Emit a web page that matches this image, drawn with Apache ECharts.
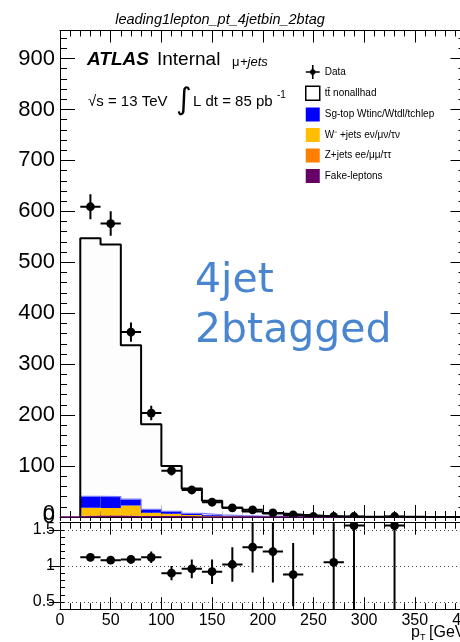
<!DOCTYPE html>
<html>
<head>
<meta charset="utf-8">
<script src="https://cdn.jsdelivr.net/npm/echarts@6/dist/echarts.min.js"></script>
<style>
html, body { margin: 0; padding: 0; background: #fff; }
#chart { width: 460px; height: 642px; }
</style>
</head>
<body>
<div id="chart"></div>
<script>
// bins of 20 GeV, lepton pT
var binEdges = [20, 40, 60, 80, 100, 120, 140, 160, 180, 200, 220, 240, 260, 280, 300, 320, 340, 360, 380, 400]

// MC stack, bottom to top
var fakes = [0.8, 0.8, 0.6, 0.4, 0.3, 0.2, 0.1, 0.1, 0.05, 0.05, 0.03, 0.03, 0.02, 0.02, 0.01, 0.01, 0.01, 0.01, 0.01]
var zJets = [2, 2, 2, 1, 0.8, 0.5, 0.3, 0.2, 0.1, 0.1, 0.05, 0.05, 0.03, 0.03, 0.02, 0.02, 0.01, 0.01, 0.01]
var wJets = [15.5, 15, 20, 7.1, 5.4, 3.3, 2, 1.2, 0.8, 0.5, 0.3, 0.2, 0.1, 0.1, 0.05, 0.05, 0.03, 0.02, 0.02]
var singleTop = [22, 22, 12.4, 6.5, 4.5, 3, 2, 1.3, 0.8, 0.5, 0.4, 0.3, 0.2, 0.1, 0.1, 0.1, 0.05, 0.03, 0.02]
var ttbar = [507, 495, 302, 167, 89, 49, 27.6, 15.2, 9.25, 5.55, 3.7, 2.0, 0.6, 0.39, 0.32, 0.46, 0.2, 0.13, 0.04]

// data points
var dataX = [30, 50, 70, 90, 110, 130, 150, 170, 190, 210, 230, 250, 270, 290, 330]
var dataY = [609, 576, 363, 204, 91, 53, 29, 18, 14, 8, 4, 1, 1, 1, 1]
var dataErr = [24.7, 24, 19, 14.3, 9.5, 7.3, 5.4, 4.2, 3.7, 2.8, 2, 1, 1, 1, 1]

// data / MC
var ratioX = [30, 50, 70, 90, 110, 130, 150, 170, 190, 210, 230, 270, 290, 330]
var ratioY = [1.12, 1.08, 1.09, 1.12, 0.90, 0.96, 0.92, 1.02, 1.26, 1.20, 0.88, 1.05, 1.56, 1.56]
var ratioErr = [0.045, 0.045, 0.06, 0.08, 0.10, 0.13, 0.17, 0.24, 0.35, 0.43, 0.44, 1.05, 1.56, 1.56]
var ratioLines = [0.5, 1, 1.5]

var stackNames = ['Fake-leptons', 'Z+jets ee/μμ/ττ', 'W⁻ +jets eν/μν/τν', 'Sg-top Wtinc/Wtdl/tchlep', 'tt̄ nonallhad']
var stackValues = [fakes, zJets, wJets, singleTop, ttbar]
var stackColors = ['#660066', '#ff7f00', '#ffbf00', '#0000ff', '#fdfdfd']

var FONT = 'Liberation Sans'

function rectRender (color) {
  return function (params, api) {
    var p0 = api.coord([api.value(0), api.value(3)])
    var p1 = api.coord([api.value(1), api.value(2)])
    return {
      type: 'rect',
      shape: { x: p0[0], y: p0[1], width: p1[0] - p0[0], height: p1[1] - p0[1] },
      style: { fill: color }
    }
  }
}

function errRender (halfW) {
  return function (params, api) {
    var x = api.value(0), y = api.value(1), e = api.value(2)
    var c = api.coord([x, y])
    var top = api.coord([x, y + e])
    var bot = api.coord([x, y - e])
    var l = api.coord([x - halfW, y])
    var r = api.coord([x + halfW, y])
    return {
      type: 'group',
      children: [
        { type: 'line', shape: { x1: c[0], y1: top[1], x2: c[0], y2: bot[1] }, style: { stroke: '#000', lineWidth: 2 } },
        { type: 'line', shape: { x1: l[0], y1: c[1], x2: r[0], y2: c[1] }, style: { stroke: '#000', lineWidth: 2 } },
        { type: 'circle', shape: { cx: c[0], cy: c[1], r: 4.4 }, style: { fill: '#000' } }
      ]
    }
  }
}

function stepData (tops, start) {
  var d = [[start, 0]]
  tops.forEach(function (v, i) { d.push([binEdges[i], v]) })
  d.push([binEdges[binEdges.length - 1], tops[tops.length - 1]])
  return d
}

// build stacked rects
var base = ttbar.map(function () { return 0 })
var series = []
var stopTop = null
stackValues.forEach(function (vals, k) {
  var items = vals.map(function (v, i) {
    var b = base[i]
    base[i] = b + v
    return [binEdges[i], binEdges[i + 1], b, b + v]
  })
  if (k === 3) stopTop = base.slice()
  series.push({
    type: 'custom',
    name: stackNames[k],
    xAxisIndex: 0,
    yAxisIndex: 0,
    clip: true,
    z: 1,
    itemStyle: { color: stackColors[k] },
    renderItem: rectRender(stackColors[k]),
    data: items
  })
})
var totalTop = base.slice()

series.push({
  type: 'line', xAxisIndex: 0, yAxisIndex: 0, step: 'end', symbol: 'none', z: 2,
  lineStyle: { color: '#7b7bff', width: 1.2 }, data: stepData(stopTop, binEdges[0])
})
series.push({
  type: 'line', xAxisIndex: 0, yAxisIndex: 0, step: 'end', symbol: 'none', z: 3,
  lineStyle: { color: '#660066', width: 1.5 }, data: stepData(fakes, 0)
})
series.push({
  type: 'line', xAxisIndex: 0, yAxisIndex: 0, step: 'end', symbol: 'none', z: 3,
  lineStyle: { color: '#000', width: 2 }, data: stepData(totalTop, binEdges[0])
})
series.push({
  type: 'custom', name: 'Data', xAxisIndex: 0, yAxisIndex: 0, clip: true, z: 5,
  itemStyle: { color: '#000' },
  renderItem: errRender(10),
  data: dataX.map(function (x, i) { return [x, dataY[i], dataErr[i]] })
})
series.push({
  type: 'custom', name: 'ratio', xAxisIndex: 3, yAxisIndex: 2, clip: true, z: 5,
  itemStyle: { color: '#000' },
  renderItem: errRender(10),
  data: ratioX.map(function (x, i) { return [x, ratioY[i], ratioErr[i]] }),
  markLine: {
    silent: true, symbol: 'none', label: { show: false },
    lineStyle: { color: '#444', width: 1, type: [1, 3] },
    data: ratioLines.map(function (v) { return { yAxis: v } })
  }
})

function xAx (grid, pos, opts) {
  var a = {
    type: 'value', gridIndex: grid, position: pos, min: 0, max: 400, interval: 50,
    axisLine: { show: true, onZero: false, lineStyle: { color: '#000', width: 1 } },
    axisTick: { show: true, inside: true, length: 12, lineStyle: { color: '#000' } },
    minorTick: { show: true, splitNumber: 5, length: 6, lineStyle: { color: '#000' } },
    axisLabel: { show: false },
    splitLine: { show: false }, minorSplitLine: { show: false }
  }
  return Object.assign(a, opts || {})
}

var xAxes = [
  xAx(0, 'bottom'),
  xAx(0, 'top'),
  xAx(0, 'bottom', {
    axisLine: { show: false },
    axisTick: { show: true, inside: false, length: 4, lineStyle: { color: '#000' } },
    minorTick: { show: true, splitNumber: 5, length: 4, lineStyle: { color: '#000' } }
  }),
  xAx(1, 'bottom', {
    axisLabel: { show: true, margin: 3, fontSize: 16, fontFamily: FONT, color: '#000', showMinLabel: true, showMaxLabel: true, hideOverlap: false }
  }),
  xAx(1, 'top')
]

var yMain = {
  type: 'value', gridIndex: 0, min: 0, max: 955, interval: 100, z: 0,
  axisLine: { show: true, onZero: false, lineStyle: { color: '#000' } },
  axisTick: { show: true, inside: true, length: 15, lineStyle: { color: '#000' } },
  minorTick: { show: true, splitNumber: 5, length: 7, lineStyle: { color: '#000' } },
  splitLine: { show: false },
  axisLabel: { show: true, margin: 5, fontSize: 22, fontFamily: FONT, color: '#000', showMinLabel: true, showMaxLabel: false, hideOverlap: false }
}
var yMainRight = Object.assign({}, yMain, { position: 'right', axisLabel: { show: false } })

function ratioLabel (v) {
  for (var i = 0; i < ratioLines.length; i++) {
    if (Math.abs(v - ratioLines[i]) < 1e-6) return String(ratioLines[i])
  }
  return ''
}
var yRatio = {
  type: 'value', gridIndex: 1, min: 0.4, max: 1.6, interval: 0.1, z: 3,
  axisLine: { show: true, onZero: false, lineStyle: { color: '#000' } },
  axisTick: { show: true, inside: true, length: 5, lineStyle: { color: '#000' } },
  splitLine: { show: false },
  axisLabel: { show: true, margin: 5, fontSize: 16, fontFamily: FONT, color: '#000', formatter: ratioLabel, showMinLabel: true, showMaxLabel: true, hideOverlap: false }
}
var yRatioMajor = {
  type: 'value', gridIndex: 1, min: 0.4, max: 1.6, z: 3,
  axisLine: { show: false },
  axisTick: { show: true, inside: true, length: 11, customValues: ratioLines, lineStyle: { color: '#000' } },
  splitLine: { show: false },
  axisLabel: { show: false }
}

var chart = echarts.init(document.getElementById('chart'), null, { renderer: 'canvas' })

chart.setOption({
  animation: false,
  backgroundColor: '#fff',
  textStyle: { fontFamily: FONT },
  grid: [
    { left: 60, top: 30.5, width: 405.5, height: 486.5, outerBoundsMode: 'none', containLabel: false },
    { left: 60, top: 522.7, width: 405.5, height: 86.5, outerBoundsMode: 'none', containLabel: false }
  ],
  xAxis: xAxes,
  yAxis: [
    yMain,
    yMainRight,
    yRatio,
    yRatioMajor,
    Object.assign({}, yRatio, { position: 'right', axisLabel: { show: false } }),
    Object.assign({}, yRatioMajor, { position: 'right' })
  ],
  legend: {
    orient: 'vertical', left: 305, top: 65, padding: 0,
    itemWidth: 14, itemHeight: 14, itemGap: 6.5,
    selectedMode: false,
    textStyle: { fontSize: 10, fontFamily: FONT, color: '#000' },
    data: [
      { name: 'Data', icon: 'path://M0,6.2L14,6.2L14,7.8L0,7.8Z M6.2,0L7.8,0L7.8,14L6.2,14Z M7,3.2L10.8,7L7,10.8L3.2,7Z', itemStyle: { color: '#000' } },
      { name: stackNames[4], icon: 'rect', itemStyle: { color: '#fff', borderColor: '#000', borderWidth: 1.5 } },
      { name: stackNames[3], icon: 'rect', itemStyle: { color: stackColors[3] } },
      { name: stackNames[2], icon: 'rect', itemStyle: { color: stackColors[2] } },
      { name: stackNames[1], icon: 'rect', itemStyle: { color: stackColors[1] } },
      { name: stackNames[0], icon: 'rect', itemStyle: { color: stackColors[0] } }
    ]
  },
  graphic: [
    // origin label of the upper pad
    { type: 'text', z: 50, x: 55, y: 514, style: { text: '0', font: '22px "Liberation Sans"', fill: '#000', align: 'right', verticalAlign: 'middle' } },
    { type: 'text', x: 220, y: 20, style: { text: 'leading1lepton_pt_4jetbin_2btag', font: 'italic 14.5px "Liberation Sans"', fill: '#000', align: 'center', verticalAlign: 'middle' } },
    { type: 'text', x: 87, y: 60, style: { text: 'ATLAS', font: 'italic bold 19px "Liberation Sans"', fill: '#000', verticalAlign: 'middle' } },
    { type: 'text', x: 157, y: 60, style: { text: 'Internal', font: '19px "Liberation Sans"', fill: '#000', verticalAlign: 'middle' } },
    { type: 'text', x: 232, y: 62, style: { text: 'μ', font: '13px "Liberation Sans"', fill: '#000', verticalAlign: 'middle' } },
    { type: 'text', x: 240, y: 62, style: { text: '+jets', font: 'italic 13px "Liberation Sans"', fill: '#000', verticalAlign: 'middle' } },
    { type: 'text', x: 88, y: 102, style: { text: '√s = 13 TeV', font: '15px "Liberation Sans"', fill: '#000', verticalAlign: 'middle' } },
    { type: 'text', x: 176, y: 101, style: { text: '∫', font: '30px "DejaVu Sans"', fill: '#000', verticalAlign: 'middle' } },
    { type: 'text', x: 193, y: 102, style: { text: 'L dt = 85 pb', font: '15px "Liberation Sans"', fill: '#000', verticalAlign: 'middle' } },
    { type: 'text', x: 277, y: 95, style: { text: '-1', font: '10px "Liberation Sans"', fill: '#000', verticalAlign: 'middle' } },
    { type: 'text', x: 195, y: 281, style: { text: '4jet', font: '41px "DejaVu Sans"', fill: '#4a86cf', verticalAlign: 'middle' } },
    { type: 'text', x: 195, y: 331, style: { text: '2btagged', font: '41px "DejaVu Sans"', fill: '#4a86cf', verticalAlign: 'middle' } },
    { type: 'text', x: 411, y: 633, style: { text: 'p', font: '16px "Liberation Sans"', fill: '#000', verticalAlign: 'middle' } },
    { type: 'text', x: 420, y: 638, style: { text: 'T', font: '9px "Liberation Sans"', fill: '#000', verticalAlign: 'middle' } },
    { type: 'text', x: 429, y: 633, style: { text: '[GeV]', font: '16px "Liberation Sans"', fill: '#000', verticalAlign: 'middle' } }
  ],
  series: series
})
</script>
</body>
</html>
